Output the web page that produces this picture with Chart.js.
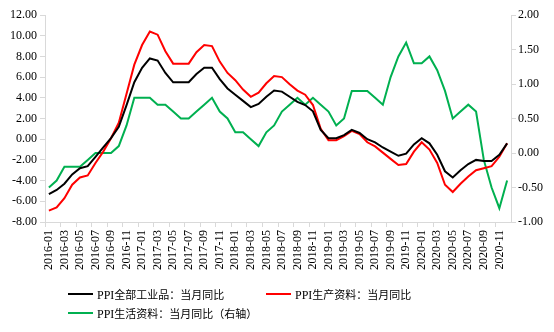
<!DOCTYPE html>
<html>
<head>
<meta charset="utf-8">
<script src="https://cdn.jsdelivr.net/npm/chart.js@4/dist/chart.umd.min.js"></script>
<style>
    body { margin: 0; background: #fff; }
    #wrap { position: relative; width: 554px; height: 332px; }
    .legend-item { position: absolute; height: 14px; display: flex; align-items: center; white-space: nowrap; }
    .legend-line { width: 25px; height: 2px; margin-right: 4px; }
    .legend-text { font-family: "Liberation Serif", serif; font-size: 12px; color: #000; }
    .legend-text span { font-family: "Noto Sans CJK SC", sans-serif; font-size: 11px; }
</style>
</head>
<body>
<div id="wrap">
    <canvas id="ppiChart" width="554" height="332"></canvas>

    <div class="legend-item" style="left:68px; top:287px;">
        <div class="legend-line" style="background:#000000;"></div>
        <div class="legend-text">PPI<span>全部工业品：当月同比</span></div>
    </div>
    <div class="legend-item" style="left:266px; top:287px;">
        <div class="legend-line" style="background:#ff0000;"></div>
        <div class="legend-text">PPI<span>生产资料：当月同比</span></div>
    </div>
    <div class="legend-item" style="left:68px; top:306px;">
        <div class="legend-line" style="background:#00b050;"></div>
        <div class="legend-text">PPI<span>生活资料：当月同比（右轴）</span></div>
    </div>
</div>

<script>
// Month labels (2016-01 to 2020-12)
const months = [
    '2016-01','2016-02','2016-03','2016-04','2016-05','2016-06','2016-07','2016-08','2016-09','2016-10','2016-11','2016-12',
    '2017-01','2017-02','2017-03','2017-04','2017-05','2017-06','2017-07','2017-08','2017-09','2017-10','2017-11','2017-12',
    '2018-01','2018-02','2018-03','2018-04','2018-05','2018-06','2018-07','2018-08','2018-09','2018-10','2018-11','2018-12',
    '2019-01','2019-02','2019-03','2019-04','2019-05','2019-06','2019-07','2019-08','2019-09','2019-10','2019-11','2019-12',
    '2020-01','2020-02','2020-03','2020-04','2020-05','2020-06','2020-07','2020-08','2020-09','2020-10','2020-11','2020-12'
];

// PPI all industrial products, YoY (left axis)
const ppiAll = [
    -5.3, -4.9, -4.3, -3.4, -2.8, -2.6, -1.7, -0.8, 0.1, 1.2, 3.3, 5.5,
    6.9, 7.8, 7.6, 6.4, 5.5, 5.5, 5.5, 6.3, 6.9, 6.9, 5.8, 4.9,
    4.3, 3.7, 3.1, 3.4, 4.1, 4.7, 4.6, 4.1, 3.6, 3.3, 2.7, 0.9,
    0.1, 0.1, 0.4, 0.9, 0.6, 0.0, -0.3, -0.8, -1.2, -1.6, -1.4, -0.5,
    0.1, -0.4, -1.5, -3.1, -3.7, -3.0, -2.4, -2.0, -2.1, -2.1, -1.5, -0.4
];

// PPI production materials, YoY (left axis)
const ppiProd = [
    -6.9, -6.6, -5.7, -4.4, -3.7, -3.5, -2.3, -1.2, 0.1, 1.6, 4.4, 7.2,
    9.1, 10.4, 10.1, 8.5, 7.3, 7.3, 7.3, 8.4, 9.1, 9.0, 7.5, 6.4,
    5.7, 4.8, 4.1, 4.5, 5.4, 6.1, 6.0, 5.3, 4.7, 4.3, 3.3, 1.0,
    -0.1, -0.1, 0.3, 0.8, 0.5, -0.3, -0.7, -1.3, -1.9, -2.5, -2.4, -1.2,
    -0.3, -1.0, -2.3, -4.4, -5.1, -4.3, -3.6, -3.0, -2.8, -2.6, -1.7, -0.4
];

// PPI consumer goods, YoY (right axis)
const ppiLife = [
    -0.5, -0.4, -0.2, -0.2, -0.2, -0.1, 0.0, 0.0, 0.0, 0.1, 0.4, 0.8,
    0.8, 0.8, 0.7, 0.7, 0.6, 0.5, 0.5, 0.6, 0.7, 0.8, 0.6, 0.5,
    0.3, 0.3, 0.2, 0.1, 0.3, 0.4, 0.6, 0.7, 0.8, 0.7, 0.8, 0.7,
    0.6, 0.4, 0.5, 0.9, 0.9, 0.9, 0.8, 0.7, 1.1, 1.4, 1.6, 1.3,
    1.3, 1.4, 1.2, 0.9, 0.5, 0.6, 0.7, 0.6, -0.1, -0.5, -0.8, -0.4
];

// Axis ranges
const leftMin = -8, leftMax = 12, leftStep = 2;
const rightMin = -1, rightMax = 2, rightStep = 0.5;

const axisColor = '#d9d9d9';
const tickFont = { family: 'Liberation Serif', size: 12 };

function lineSet(label, data, color, axis) {
    return {
        label: label,
        data: data,
        yAxisID: axis,
        borderColor: color,
        backgroundColor: color,
        borderWidth: 2,
        pointRadius: 0,
        tension: 0,
        fill: false
    };
}

new Chart(document.getElementById('ppiChart'), {
    type: 'line',
    data: {
        labels: months,
        datasets: [
            lineSet('PPI全部工业品：当月同比', ppiAll, '#000000', 'y'),
            lineSet('PPI生产资料：当月同比', ppiProd, '#ff0000', 'y'),
            lineSet('PPI生活资料：当月同比（右轴）', ppiLife, '#00b050', 'y1')
        ]
    },
    options: {
        responsive: false,
        devicePixelRatio: 1,
        animation: false,
        layout: { padding: { left: 0, right: 0, top: 15, bottom: 60 } },
        plugins: {
            legend: { display: false },
            tooltip: { enabled: false }
        },
        scales: {
            x: {
                offset: true,
                grid: {
                    offset: true,
                    drawOnChartArea: false,
                    tickLength: 5,
                    color: ctx => (ctx.index % 2 === 0 ? axisColor : 'rgba(0,0,0,0)')
                },
                border: { color: axisColor },
                ticks: {
                    autoSkip: false,
                    minRotation: 90,
                    maxRotation: 90,
                    padding: 3,
                    color: '#000',
                    font: tickFont,
                    callback: (v, i) => (i % 2 === 0 ? months[i] : '')
                },
                afterFit: s => { s.height = 50; }
            },
            y: {
                position: 'left',
                min: leftMin,
                max: leftMax,
                grid: { drawOnChartArea: false, tickLength: 5, color: axisColor },
                border: { color: axisColor },
                ticks: {
                    stepSize: leftStep,
                    padding: 3,
                    color: '#000',
                    font: tickFont,
                    callback: v => v.toFixed(2)
                },
                afterFit: s => { s.width = 45; }
            },
            y1: {
                position: 'right',
                min: rightMin,
                max: rightMax,
                grid: { drawOnChartArea: false, tickLength: 5, color: axisColor },
                border: { color: axisColor },
                ticks: {
                    stepSize: rightStep,
                    padding: 2,
                    color: '#000',
                    font: tickFont,
                    callback: v => v.toFixed(2)
                },
                afterFit: s => { s.width = 43; }
            }
        }
    }
});
</script>
</body>
</html>
